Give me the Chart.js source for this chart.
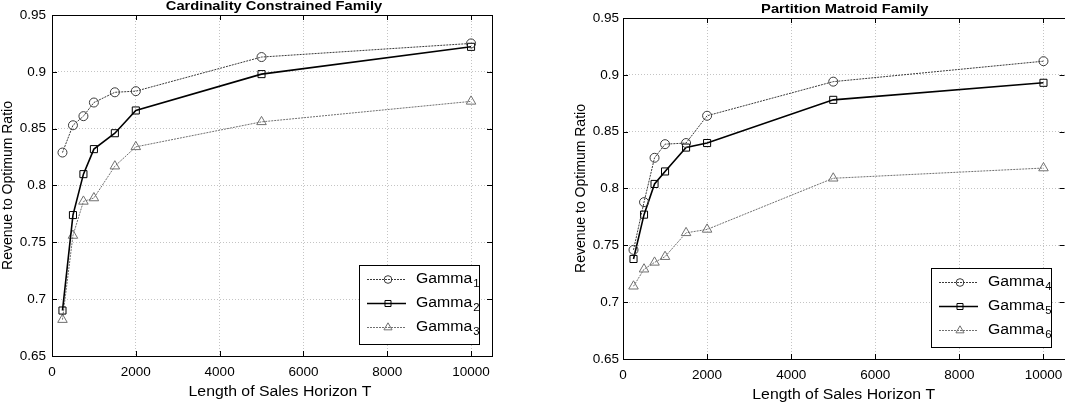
<!DOCTYPE html>
<html><head><meta charset="utf-8">
<script src="https://cdn.jsdelivr.net/npm/chart.js@4.4.1/dist/chart.umd.min.js"></script>
<style>
html,body{margin:0;padding:0;background:#fff;overflow:hidden;width:1065px;height:402px;position:relative;}
canvas{position:absolute;top:0;}
#c1{left:0;}
#c2{left:571px;}
</style></head><body>
<canvas id="c1" width="530" height="402" style="width:530px;height:402px"></canvas>
<canvas id="c2" width="500" height="402" style="width:500px;height:402px"></canvas>
<script>
// ---- data ----
const xValues = [250, 500, 750, 1000, 1500, 2000, 5000, 10000];
const gamma1 = [0.829, 0.853, 0.861, 0.873, 0.882, 0.883, 0.913, 0.925];
const gamma2 = [0.690, 0.774, 0.810, 0.832, 0.846, 0.866, 0.898, 0.922];
const gamma3 = [0.682, 0.756, 0.786, 0.789, 0.817, 0.834, 0.856, 0.874];
const gamma4 = [0.746, 0.788, 0.827, 0.839, 0.840, 0.864, 0.894, 0.912];
const gamma5 = [0.738, 0.777, 0.804, 0.815, 0.836, 0.840, 0.878, 0.893];
const gamma6 = [0.714, 0.729, 0.735, 0.740, 0.761, 0.764, 0.809, 0.818];
const xTickValues = [0, 2000, 4000, 6000, 8000, 10000];
const yTickValues = [0.65, 0.7, 0.75, 0.8, 0.85, 0.9, 0.95];
const leftTitle = 'Cardinality Constrained Family';
const rightTitle = 'Partition Matroid Family';
const xAxisTitle = 'Length of Sales Horizon T';
const yAxisTitle = 'Revenue to Optimum Ratio';
const seriesName = 'Gamma';
const leftSubs = ['1', '2', '3'];
const rightSubs = ['4', '5', '6'];

const FONT = '"Liberation Sans", Arial, Helvetica, sans-serif';
const HSCALE = 1.13;
const STYLES = [
  {color: '#3a3a3a', width: 1, dash: [2, 1], marker: 'circle', radius: 4.5},
  {color: '#000000', width: 1.6, dash: [], marker: 'rect', radius: 5},
  {color: '#707070', width: 1, dash: [2, 1], marker: 'triangle', radius: 5.5}
];

function fmtY(v) { return String(parseFloat(v.toFixed(2))); }

function hText(ctx, text, x, y, align) {
  ctx.save();
  ctx.translate(x, y);
  ctx.scale(HSCALE, 1);
  ctx.textAlign = align;
  ctx.fillText(text, 0, 0);
  ctx.restore();
}

function build(id, seriesValues, subs, title, g) {
  const datasets = seriesValues.map((vals, i) => {
    const s = STYLES[i];
    return {
      label: seriesName + subs[i],
      data: xValues.map((x, k) => ({x: x, y: vals[k]})),
      borderColor: s.color, borderWidth: s.width, borderDash: s.dash,
      pointStyle: s.marker, pointRadius: s.radius, pointBorderColor: s.color,
      pointBackgroundColor: 'rgba(0,0,0,0)', pointBorderWidth: 1,
      tension: 0, fill: false
    };
  });
  const framePlugin = {
    id: 'frame',
    afterDatasetsDraw(chart) {
      const ctx = chart.ctx, a = chart.chartArea;
      const xs = chart.scales.x, ys = chart.scales.y;
      ctx.save();
      ctx.strokeStyle = '#000'; ctx.lineWidth = 1; ctx.setLineDash([]);
      ctx.strokeRect(Math.round(a.left) + 0.5, Math.round(a.top) + 0.5,
        Math.round(a.right - a.left), Math.round(a.bottom - a.top));
      ctx.beginPath();
      xTickValues.forEach(v => {
        const px = Math.round(xs.getPixelForValue(v)) + 0.5;
        ctx.moveTo(px, a.bottom); ctx.lineTo(px, a.bottom - 5);
        ctx.moveTo(px, a.top); ctx.lineTo(px, a.top + 5);
      });
      yTickValues.forEach(v => {
        const py = Math.round(ys.getPixelForValue(v)) + 0.5;
        ctx.moveTo(a.left, py); ctx.lineTo(a.left + 5, py);
        ctx.moveTo(a.right, py); ctx.lineTo(a.right - 5, py);
      });
      ctx.stroke();
      ctx.restore();
    },
    afterDraw(chart) {
      const ctx = chart.ctx, a = chart.chartArea;
      ctx.save();
      ctx.fillStyle = '#000';
      ctx.textBaseline = 'alphabetic';
      // chart title
      ctx.font = 'bold 13px ' + FONT;
      hText(ctx, title, (a.left + a.right) / 2 + g.titleDx, a.top - 5, 'center');
      // x axis title
      ctx.font = '14px ' + FONT;
      hText(ctx, xAxisTitle, (a.left + a.right) / 2 + g.xTitleDx, a.bottom + 40, 'center');
      // y axis title
      ctx.save();
      ctx.translate(a.left - g.yTitleOff, (a.top + a.bottom) / 2);
      ctx.rotate(-Math.PI / 2);
      ctx.textAlign = 'center';
      ctx.fillText(yAxisTitle, 0, 0);
      ctx.restore();
      // legend
      const bw = 120, bh = 79;
      const bx = Math.round(a.right - g.legRight - bw), by = Math.round(a.bottom - 12 - bh);
      ctx.fillStyle = '#fff';
      ctx.fillRect(bx, by, bw, bh);
      ctx.strokeStyle = '#000'; ctx.lineWidth = 1;
      ctx.strokeRect(bx + 0.5, by + 0.5, bw, bh);
      const rows = [14.5, 38.5, 62.5];
      chart.data.datasets.forEach((ds, i) => {
        const s = STYLES[i];
        const y = by + rows[i];
        ctx.save();
        ctx.strokeStyle = s.color; ctx.lineWidth = s.width; ctx.setLineDash(s.dash);
        ctx.beginPath(); ctx.moveTo(bx + 8, y); ctx.lineTo(bx + 47, y); ctx.stroke();
        ctx.setLineDash([]); ctx.lineWidth = 1;
        ctx.fillStyle = 'rgba(0,0,0,0)';
        Chart.helpers.drawPoint(ctx, {pointStyle: s.marker, radius: s.radius * 0.85, borderWidth: 1, rotation: 0}, bx + 29, y);
        ctx.restore();
        ctx.fillStyle = '#000';
        ctx.textBaseline = 'middle';
        ctx.font = '14px ' + FONT;
        hText(ctx, seriesName, bx + 57, y, 'left');
        const w = ctx.measureText(seriesName).width * HSCALE;
        ctx.font = '10px ' + FONT;
        hText(ctx, subs[i], bx + 57 + w + 1, y + 5, 'left');
      });
      ctx.restore();
    }
  };
  return new Chart(document.getElementById(id), {
    type: 'line',
    data: {datasets: datasets},
    options: {
      responsive: false, animation: false, devicePixelRatio: 1,
      layout: {padding: {left: 0, right: g.padRight, top: g.padTop, bottom: 0}},
      plugins: {legend: {display: false}, title: {display: false}, tooltip: {enabled: false}},
      scales: {
        x: {
          type: 'linear', min: 0, max: 10500,
          afterBuildTicks: s => { s.ticks = xTickValues.map(v => ({value: v})); },
          afterFit: s => { s.height = g.xAxisH; },
          ticks: {font: {family: FONT, size: 13.5}, color: '#000', padding: 8, maxRotation: 0, autoSkip: false,
                  callback: v => String(v)},
          grid: {color: '#c4c4c4', lineWidth: 1, drawTicks: false},
          border: {display: false, dash: [1, 2]}
        },
        y: {
          type: 'linear', min: 0.65, max: 0.95,
          afterBuildTicks: s => { s.ticks = yTickValues.map(v => ({value: v})); },
          afterFit: s => { s.width = 52; },
          ticks: {font: {family: FONT, size: 13.5}, color: '#000', padding: g.yPad, autoSkip: false,
                  callback: v => fmtY(v)},
          grid: {color: '#c4c4c4', lineWidth: 1, drawTicks: false},
          border: {display: false, dash: [1, 2]}
        }
      }
    },
    plugins: [framePlugin]
  });
}

build('c1', [gamma1, gamma2, gamma3], leftSubs, leftTitle,
  {padTop: 15, padRight: 38, xAxisH: 46, yPad: 6, titleDx: 2, xTitleDx: 8, yTitleOff: 40.5, legRight: 13});
build('c2', [gamma4, gamma5, gamma6], rightSubs, rightTitle,
  {padTop: 18, padRight: 5, xAxisH: 43, yPad: 4, titleDx: 1, xTitleDx: 0, yTitleOff: 38.5, legRight: 14});
</script>
</body></html>
